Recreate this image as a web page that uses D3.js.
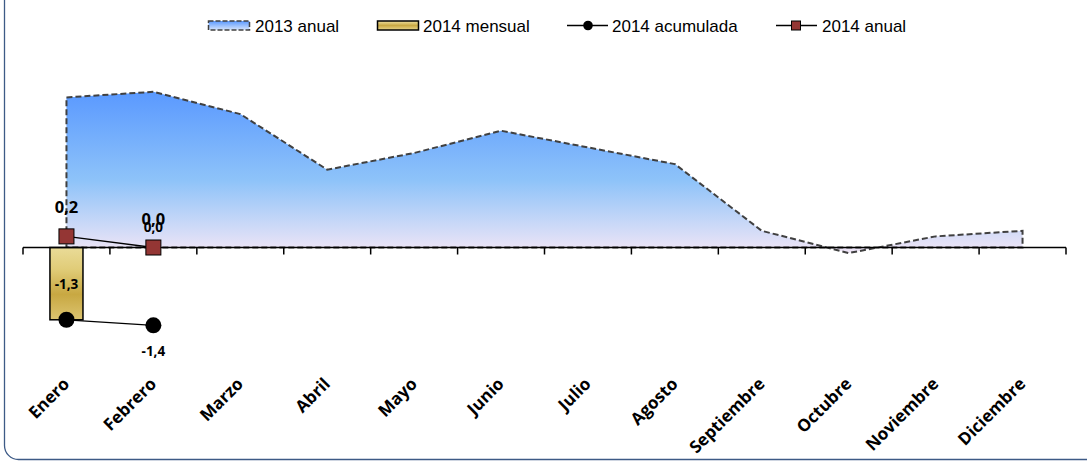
<!DOCTYPE html>
<html>
<head>
<meta charset="utf-8">
<script src="https://cdn.jsdelivr.net/npm/d3@7"></script>
<style>
  html, body { margin: 0; padding: 0; background: #fff; }
  svg { display: block; }
</style>
</head>
<body>
<script>
const categories = ["Enero","Febrero","Marzo","Abril","Mayo","Junio","Julio","Agosto","Septiembre","Octubre","Noviembre","Diciembre"];
const anual2013 = [2.7, 2.8, 2.4, 1.4, 1.7, 2.1, 1.8, 1.5, 0.3, -0.1, 0.2, 0.3];
const mensual2014 = [-1.3, 0.0];
const acumulada2014 = [-1.3, -1.4];
const anual2014 = [0.2, 0.0];
const legendLabels = ["2013 anual", "2014 mensual", "2014 acumulada", "2014 anual"];

const W = 1087, H = 461;
const svg = d3.select("body").append("svg").attr("width", W).attr("height", H);
const defs = svg.append("defs");

const areaGrad = defs.append("linearGradient").attr("id", "areaGrad")
  .attr("x1", 0).attr("y1", 0).attr("x2", 0).attr("y2", 1);
areaGrad.append("stop").attr("offset", "0%").attr("stop-color", "#5a99ff");
areaGrad.append("stop").attr("offset", "55%").attr("stop-color", "#8ec3f9");
areaGrad.append("stop").attr("offset", "100%").attr("stop-color", "#f1e6f6");

const barGrad = defs.append("linearGradient").attr("id", "barGrad")
  .attr("x1", 0).attr("y1", 0).attr("x2", 0).attr("y2", 1);
barGrad.append("stop").attr("offset", "0%").attr("stop-color", "#eadb98");
barGrad.append("stop").attr("offset", "30%").attr("stop-color", "#e0cc78");
barGrad.append("stop").attr("offset", "65%").attr("stop-color", "#c8a842");
barGrad.append("stop").attr("offset", "100%").attr("stop-color", "#dcc470");

const legGrad = defs.append("linearGradient").attr("id", "legGrad")
  .attr("x1", 0).attr("y1", 0).attr("x2", 0).attr("y2", 1);
legGrad.append("stop").attr("offset", "0%").attr("stop-color", "#5a99ff");
legGrad.append("stop").attr("offset", "100%").attr("stop-color", "#d6e4fb");

const legBarGrad = defs.append("linearGradient").attr("id", "legBarGrad")
  .attr("x1", 0).attr("y1", 0).attr("x2", 0).attr("y2", 1);
legBarGrad.append("stop").attr("offset", "0%").attr("stop-color", "#f0e2a0");
legBarGrad.append("stop").attr("offset", "50%").attr("stop-color", "#c9a944");
legBarGrad.append("stop").attr("offset", "100%").attr("stop-color", "#e8d68c");

// frame
svg.append("rect").attr("x", 4.5).attr("y", -40).attr("width", 1200).attr("height", 499.5)
  .attr("rx", 14).attr("fill", "none").attr("stroke", "#3d5a86").attr("stroke-width", 1.3);

const x = d3.scaleBand().domain(categories).range([23, 1066]).padding(0);
const bw = x.bandwidth();
const cx = c => x(c) + bw / 2;
const y = d3.scaleLinear().domain([-3, 3]).range([414.3, 80.7]);

// area 2013
const area = d3.area()
  .x((d, i) => cx(categories[i]))
  .y0(y(0))
  .y1(d => y(d));
svg.append("path").datum(anual2013).attr("d", area)
  .attr("fill", "url(#areaGrad)")
  .attr("stroke", "#404040").attr("stroke-width", 2).attr("stroke-dasharray", "6,3");

// bars 2014 mensual
const barW = bw * 0.38;
svg.selectAll(".bar").data(mensual2014).join("rect")
  .attr("x", (d, i) => cx(categories[i]) - barW / 2)
  .attr("y", d => Math.min(y(d), y(0)))
  .attr("width", barW)
  .attr("height", d => Math.abs(y(d) - y(0)))
  .attr("fill", "url(#barGrad)")
  .attr("stroke", d => d === 0 ? "none" : "#000").attr("stroke-width", 1.5);

// axis
const axisY = y(0);
svg.append("line").attr("x1", x.range()[0]).attr("x2", x.range()[1])
  .attr("y1", axisY).attr("y2", axisY).attr("stroke", "#000").attr("stroke-width", 1.5);
svg.selectAll(".tick").data(d3.range(categories.length + 1)).join("line")
  .attr("x1", i => x.range()[0] + i * bw).attr("x2", i => x.range()[0] + i * bw)
  .attr("y1", axisY).attr("y2", axisY + 7).attr("stroke", "#000").attr("stroke-width", 1.5);

// 2014 acumulada line + circles
const line = d3.line().x((d, i) => cx(categories[i])).y(d => y(d));
svg.append("path").datum(acumulada2014).attr("d", line)
  .attr("fill", "none").attr("stroke", "#000").attr("stroke-width", 1.3);
svg.selectAll(".acc").data(acumulada2014).join("circle")
  .attr("cx", (d, i) => cx(categories[i])).attr("cy", d => y(d)).attr("r", 8).attr("fill", "#000");

// 2014 anual line + squares
svg.append("path").datum(anual2014).attr("d", line)
  .attr("fill", "none").attr("stroke", "#000").attr("stroke-width", 1.3);
svg.selectAll(".an").data(anual2014).join("rect")
  .attr("x", (d, i) => cx(categories[i]) - 7.5).attr("y", d => y(d) - 7.5)
  .attr("width", 15).attr("height", 15)
  .attr("fill", "#943634").attr("stroke", "#000").attr("stroke-width", 1);

const fmt = v => d3.format(".1f")(v).replace(".", ",").replace("−", "-");
const lblFont = "'Open Sans', sans-serif";

// labels: 2014 anual
svg.selectAll(".anl").data(anual2014).join("text")
  .attr("x", (d, i) => cx(categories[i])).attr("y", d => y(d) - 23)
  .attr("text-anchor", "middle").attr("font-family", lblFont).attr("font-weight", 700)
  .attr("font-size", 16.5).attr("fill", "#000").text(d => fmt(d));

// labels: 2014 mensual
svg.selectAll(".ml").data(mensual2014).join("text")
  .attr("x", (d, i) => cx(categories[i]))
  .attr("y", d => Math.abs(d) < 0.05 ? y(0) - 15.5 : (y(0) + y(d)) / 2 + 5)
  .attr("text-anchor", "middle").attr("font-family", lblFont).attr("font-weight", 700)
  .attr("font-size", 13.5).attr("fill", "#000").text(d => fmt(d));

// labels: 2014 acumulada (shown where not overlapped by bar label)
svg.selectAll(".al").data(acumulada2014.map((v, i) => ({v, i})).filter(d => d.i > 0)).join("text")
  .attr("x", d => cx(categories[d.i])).attr("y", d => y(d.v) + 31)
  .attr("text-anchor", "middle").attr("font-family", lblFont).attr("font-weight", 700)
  .attr("font-size", 13.5).attr("fill", "#000").text(d => fmt(d.v));

// category labels
svg.selectAll(".cat").data(categories).join("text")
  .attr("transform", c => `translate(${cx(c) + 4},${385}) rotate(-45)`)
  .attr("text-anchor", "end").attr("font-family", lblFont).attr("font-weight", 700)
  .attr("font-size", 17).attr("fill", "#000").text(c => c);

// legend
const lg = svg.append("g").attr("font-family", "'Liberation Sans', Arial, sans-serif").attr("font-size", 17);
// 2013 anual
lg.append("rect").attr("x", 208.5).attr("y", 21).attr("width", 41).attr("height", 9)
  .attr("fill", "url(#legGrad)").attr("stroke", "#404040").attr("stroke-width", 1.5).attr("stroke-dasharray", "5,2");
lg.append("text").attr("x", 255).attr("y", 32).text(legendLabels[0]);
// 2014 mensual
lg.append("rect").attr("x", 377.5).attr("y", 21).attr("width", 41).attr("height", 9)
  .attr("fill", "url(#legBarGrad)").attr("stroke", "#000").attr("stroke-width", 1.5);
lg.append("text").attr("x", 423).attr("y", 32).text(legendLabels[1]);
// 2014 acumulada
lg.append("line").attr("x1", 567).attr("x2", 608).attr("y1", 25.5).attr("y2", 25.5).attr("stroke", "#000").attr("stroke-width", 1.3);
lg.append("circle").attr("cx", 588).attr("cy", 25.5).attr("r", 4.8).attr("fill", "#000");
lg.append("text").attr("x", 612).attr("y", 32).text(legendLabels[2]);
// 2014 anual
lg.append("line").attr("x1", 776).attr("x2", 817).attr("y1", 25.5).attr("y2", 25.5).attr("stroke", "#000").attr("stroke-width", 1.3);
lg.append("rect").attr("x", 791.5).attr("y", 21).attr("width", 9).attr("height", 9)
  .attr("fill", "#943634").attr("stroke", "#000").attr("stroke-width", 1);
lg.append("text").attr("x", 822).attr("y", 32).text(legendLabels[3]);
</script>
</body>
</html>
